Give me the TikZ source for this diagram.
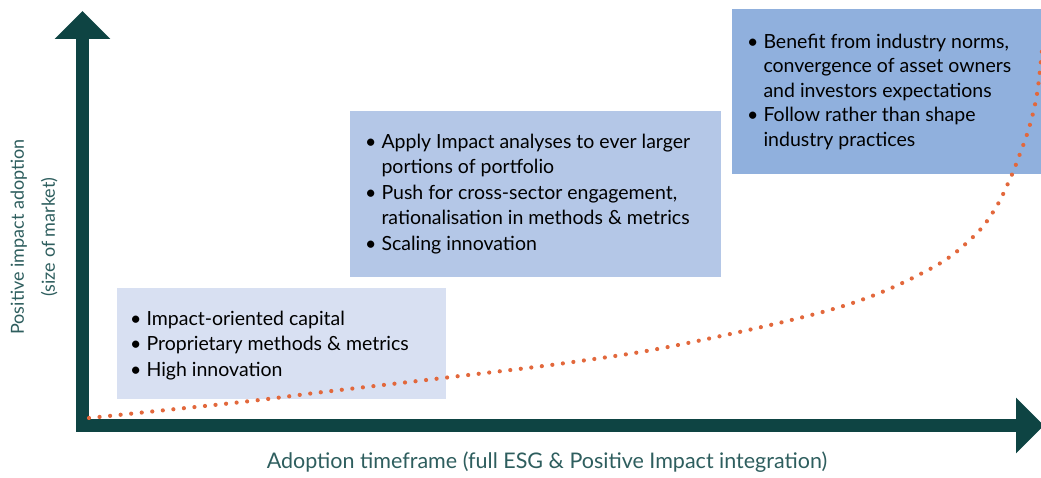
\documentclass[tikz,border=0pt]{standalone}
\usepackage{fontspec}
\setmainfont{Lato}
\usetikzlibrary{arrows.meta}
\definecolor{axisgreen}{HTML}{0E4443}
\definecolor{labelgreen}{HTML}{2E5E5E}
\definecolor{boxlight}{HTML}{D8E0F2}
\definecolor{boxmid}{HTML}{B4C7E7}
\definecolor{boxdark}{HTML}{90B0DD}
\definecolor{dotorange}{HTML}{E2683C}
\tikzset{
  phasebox/.style={draw=none, anchor=north west, inner sep=0pt},
  phasetext/.style={anchor=north west, inner sep=0pt, font=\fontsize{19.5}{25.5}\selectfont, align=left},
  axislabel/.style={text=labelgreen, align=center},
  bigtip/.tip={Triangle[length=28pt,width=54pt]}
}
\newcommand{\bl}{\textbullet}
\begin{document}
\begin{tikzpicture}[x=1pt, y=-1pt]
\useasboundingbox (0,0) rectangle (1041,478);
% boxes
\node[phasebox, fill=boxlight, minimum width=329pt, minimum height=111pt] (early) at (117,288) {};
\node[phasebox, fill=boxmid, minimum width=371pt, minimum height=166pt] (growth) at (350,111) {};
\node[phasebox, fill=boxdark, minimum width=312pt, minimum height=165pt] (mature) at (732,9) {};
\node[phasetext] (earlytext) at (130,307) {\begin{tabular}{@{}l@{\hspace{5pt}}l@{}}
\bl & Impact-oriented capital\\
\bl & Proprietary methods \& metrics\\
\bl & High innovation
\end{tabular}};
\node[phasetext] (growthtext) at (365,130) {\begin{tabular}{@{}l@{\hspace{5pt}}l@{}}
\bl & Apply Impact analyses to ever larger\\
 & portions of portfolio\\
\bl & Push for cross-sector engagement,\\
 & rationalisation in methods \& metrics\\
\bl & Scaling innovation
\end{tabular}};
\node[phasetext, font=\fontsize{19.5}{24.5}\selectfont] (maturetext) at (747,31) {\begin{tabular}{@{}l@{\hspace{5pt}}l@{}}
\bl & Benefit from industry norms,\\
 & convergence of asset owners\\
 & and investors expectations\\
\bl & Follow rather than shape\\
 & industry practices
\end{tabular}};
% axes
\coordinate (ytip) at (82.5,11);
\coordinate (origin) at (82.5,425.5);
\coordinate (xtip) at (1044,425.5);
\draw[axisgreen, line width=13pt, line join=miter, {bigtip}-{bigtip}] (ytip) -- (origin) -- (xtip);
\node[axislabel, rotate=90, font=\fontsize{18}{31}\selectfont] (ylabel) at (34,237) {Positive impact adoption\\(size of market)};
\node[axislabel, font=\fontsize{21.5}{26}\selectfont] (xlabel) at (547,462) {Adoption timeframe (full ESG \& Positive Impact integration)};
% adoption curve
\draw[dotorange, line width=4.2pt, line cap=round, dash pattern=on 0pt off 10.6pt]
  plot[smooth, tension=0.6] coordinates {(89,418) (242,402) (323,392) (443,378) (573,362) (683,344) (840,307) (930,269) (973,237) (995,209) (1010,179) (1018,159) (1029,128) (1037,94) (1042,50)};
\end{tikzpicture}
\end{document}
